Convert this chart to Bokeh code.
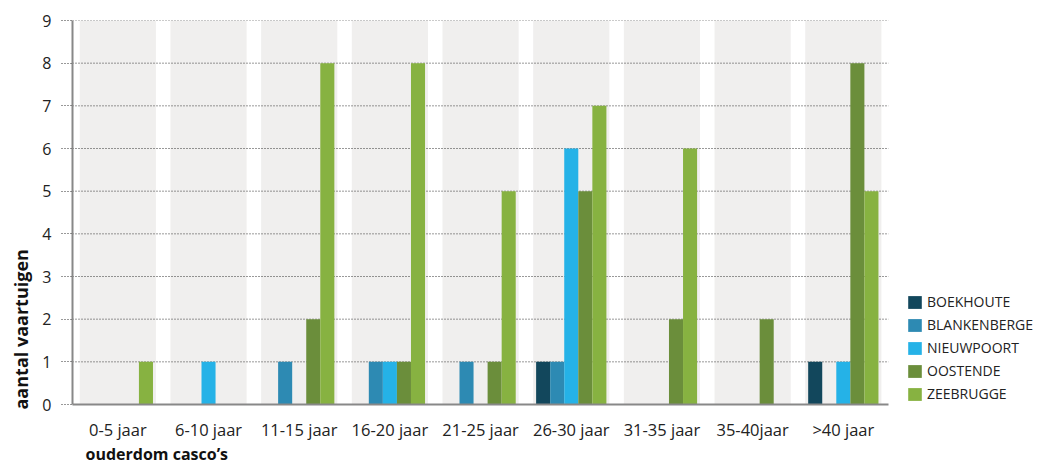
from bokeh.plotting import figure
from bokeh.models import Legend, LegendItem, Title, Range1d, FixedTicker
from bokeh.transform import dodge
from bokeh.embed import file_html
from bokeh.resources import INLINE

categories = ["0-5 jaar", "6-10 jaar", "11-15 jaar", "16-20 jaar", "21-25 jaar",
              "26-30 jaar", "31-35 jaar", "35-40jaar", ">40 jaar"]
series_names = ["BOEKHOUTE", "BLANKENBERGE", "NIEUWPOORT", "OOSTENDE", "ZEEBRUGGE"]
boekhoute =    [0, 0, 0, 0, 0, 1, 0, 0, 1]
blankenberge = [0, 0, 1, 1, 1, 1, 0, 0, 0]
nieuwpoort =   [0, 1, 0, 1, 0, 6, 0, 0, 1]
oostende =     [0, 0, 2, 1, 1, 5, 2, 2, 8]
zeebrugge =    [1, 0, 8, 8, 5, 7, 6, 0, 5]
colors = ["#12475c", "#2d8ab3", "#25b2e7", "#6b8e3b", "#87b241"]
y_ticks = list(range(0, 10))

FONT = "Open Sans"

W, H = 1043, 462
LEFT, RIGHT, TOP, BOTTOM = 71, 0, 20, 58
CAT_AREA_PX = 817          # width taken by the category axis
n = len(categories)
frame_w = W - LEFT - RIGHT
x_end = n * frame_w / CAT_AREA_PX
pos = [i + 0.5 for i in range(n)]

p = figure(x_range=Range1d(0, x_end), y_range=(0, 9),
           width=W, height=H, output_backend="svg", toolbar_location=None,
           min_border_left=LEFT, min_border_top=TOP, min_border_bottom=BOTTOM,
           min_border_right=RIGHT)
p.outline_line_color = None
p.background_fill_color = "white"
p.xgrid.grid_line_color = None
p.ygrid.grid_line_color = None

# background bands
p.vbar(x=pos, top=[9] * n, bottom=0, width=0.84, color="#f0efee", line_color=None)

# dotted grid lines spanning the category area
gy = y_ticks[1:]
p.segment(x0=[0] * len(gy), x1=[n] * len(gy), y0=gy, y1=gy,
          line_color="#333333", line_dash="1 2", line_width=1)

data = dict(x=pos, boekhoute=boekhoute, blankenberge=blankenberge,
            nieuwpoort=nieuwpoort, oostende=oostende, zeebrugge=zeebrugge)
keys = ["boekhoute", "blankenberge", "nieuwpoort", "oostende", "zeebrugge"]
bw = 0.155
items = []
for i, (k, name, c) in enumerate(zip(keys, series_names, colors)):
    r = p.vbar(x=dodge("x", (i - 2) * bw), top=k, source=data,
               width=bw, color=c, line_color=None)
    items.append(LegendItem(label=name, renderers=[r]))

legend = Legend(items=items, location=(834, 1), padding=0, margin=0, spacing=4,
                glyph_width=17, glyph_height=16, label_height=16,
                label_standoff=4, label_text_font=FONT, label_text_font_size="14px",
                label_text_color="#222222", background_fill_alpha=0,
                border_line_color=None)
p.add_layout(legend, "center")

# y axis
p.yaxis.ticker = y_ticks
p.yaxis.axis_line_color = "#888888"
p.yaxis.axis_line_width = 2
p.yaxis.major_tick_out = 11
p.yaxis.major_tick_in = 0
p.yaxis.major_tick_line_dash = "1 2"
p.yaxis.major_tick_line_color = "#333333"
p.yaxis.minor_tick_line_color = None
p.yaxis.major_label_standoff = 10
p.yaxis.major_label_text_font = FONT
p.yaxis.major_label_text_font_size = "16px"
p.yaxis.major_label_text_color = "#222222"

# x axis
p.xaxis.ticker = FixedTicker(ticks=pos)
p.xaxis.major_label_overrides = {v: c for v, c in zip(pos, categories)}
p.xaxis.bounds = (0, n)
p.xaxis.axis_line_color = "#888888"
p.xaxis.axis_line_width = 2
p.xaxis.major_tick_line_color = None
p.xaxis.minor_tick_line_color = None
p.xaxis.major_label_standoff = 7
p.xaxis.major_label_text_font = FONT
p.xaxis.major_label_text_font_size = "16.5px"
p.xaxis.major_label_text_color = "#222222"

xt = Title(text="ouderdom casco\u2019s", align="left", offset=13,
           text_font=FONT, text_font_size="16px", text_font_style="bold",
           text_color="#111111", standoff=-5)
p.add_layout(xt, "below")
yt = Title(text="aantal vaartuigen", align="left", offset=-5,
           text_font=FONT, text_font_size="18px", text_font_style="bold",
           text_color="#111111", standoff=13)
p.add_layout(yt, "left")

open("out.html", "w").write(file_html(p, INLINE))
